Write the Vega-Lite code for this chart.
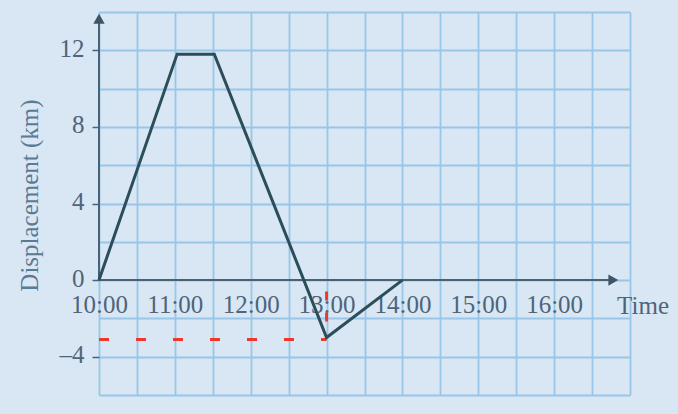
{
  "$schema": "https://vega.github.io/schema/vega-lite/v6.json",
  "width": 531,
  "height": 383,
  "autosize": "none",
  "padding": {"left": 99, "top": 12, "right": 48, "bottom": 19},
  "background": "#d9e7f4",
  "datasets": {
    "journey": [
      {"time": 10, "km": 0},
      {"time": 11.03, "km": 11.8},
      {"time": 11.52, "km": 11.8},
      {"time": 13, "km": -3},
      {"time": 14, "km": 0}
    ],
    "axes": [
      {"time": 10, "time2": 10, "km": 0, "km2": 13.6},
      {"time": 10, "time2": 16.75, "km": 0, "km2": 0}
    ],
    "arrows": [
      {"time": 10, "km": 13.65, "shape": "triangle-up"},
      {"time": 16.78, "km": 0, "shape": "triangle-right"}
    ],
    "marks": [
      {"time": 10, "time2": 13, "km": -3.1, "km2": -3.1, "dash": "long"},
      {"time": 13, "time2": 13, "km": -0.6, "km2": -2.6, "dash": "short"}
    ],
    "names": [
      {"time": 16.83, "km": 0, "label": "Time"}
    ]
  },
  "encoding": {
    "x": {
      "field": "time",
      "type": "quantitative",
      "scale": {"domain": [10, 17], "nice": false, "zero": false},
      "axis": {
        "title": null,
        "orient": "bottom",
        "offset": -114.9,
        "values": [10, 10.5, 11, 11.5, 12, 12.5, 13, 13.5, 14, 14.5, 15, 15.5, 16, 16.5, 17],
        "labelExpr": "datum.value % 1 == 0 && datum.value <= 16 ? datum.value + ':00' : ''",
        "labelOverlap": false,
        "labelFlush": false,
        "labelBound": false,
        "ticks": false,
        "labelPadding": 12,
        "domain": false,
        "grid": true
      }
    },
    "y": {
      "field": "km",
      "type": "quantitative",
      "scale": {"domain": [-6, 14], "nice": false, "zero": false},
      "axis": {
        "title": "Displacement (km)",
        "values": [-6, -4, -2, 0, 2, 4, 6, 8, 10, 12, 14],
        "labelExpr": "datum.value % 4 == 0 ? (datum.value < 0 ? '–' + abs(datum.value) : datum.value) : ''",
        "labelOverlap": false,
        "labelFlush": false,
        "tickOpacity": {"condition": {"test": "datum.value % 4 == 0", "value": 1}, "value": 0},
        "tickSize": 7,
        "tickColor": "#4a6276",
        "tickWidth": 1.5,
        "labelPadding": 8,
        "labelBaseline": "middle",
        "labelOffset": -2,
        "domain": false,
        "grid": true,
        "titleX": -70,
        "titleY": 183,
        "titleAngle": -90,
        "titleAlign": "center",
        "titleBaseline": "middle"
      }
    }
  },
  "layer": [
    {
      "data": {"name": "marks"},
      "mark": {"type": "rule", "color": "#f0382a", "strokeWidth": 3},
      "encoding": {
        "x2": {"field": "time2"},
        "y2": {"field": "km2"},
        "strokeDash": {
          "field": "dash",
          "type": "nominal",
          "scale": {"domain": ["long", "short"], "range": [[10, 27], [9, 12]]},
          "legend": null
        }
      }
    },
    {
      "data": {"name": "axes"},
      "mark": {"type": "rule", "color": "#4a6276", "strokeWidth": 2},
      "encoding": {"x2": {"field": "time2"}, "y2": {"field": "km2"}}
    },
    {
      "data": {"name": "arrows"},
      "mark": {"type": "point", "filled": true, "color": "#3f5466", "size": 130, "opacity": 1},
      "encoding": {"shape": {"field": "shape", "type": "nominal", "scale": null}}
    },
    {
      "data": {"name": "journey"},
      "mark": {"type": "line", "color": "#2c4d5a", "strokeWidth": 3, "strokeJoin": "miter"}
    },
    {
      "data": {"name": "names"},
      "mark": {"type": "text", "align": "left", "baseline": "middle", "dy": 26, "font": "Liberation Serif", "fontSize": 25, "color": "#4f6479"},
      "encoding": {"text": {"field": "label"}}
    }
  ],
  "config": {
    "view": {"stroke": null},
    "axis": {
      "gridColor": "#98c6e8",
      "gridWidth": 1.8,
      "gridOpacity": 1,
      "labelFont": "Liberation Serif",
      "labelFontSize": 25,
      "labelColor": "#4f6479",
      "titleFont": "Liberation Serif",
      "titleFontSize": 25,
      "titleFontWeight": "normal",
      "titleColor": "#5a7a96"
    }
  }
}
